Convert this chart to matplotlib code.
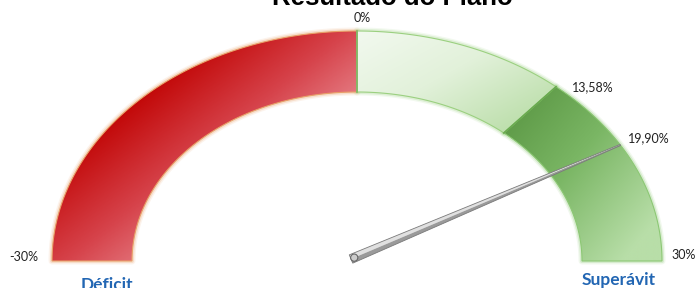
import numpy as np
import matplotlib
matplotlib.use("Agg")
import matplotlib.pyplot as plt
from matplotlib.patches import Polygon, Circle
from matplotlib.colors import LinearSegmentedColormap

# gauge data
title = "Resultado do Plano"
v_min, v_max = -30.0, 30.0
band_edges = [-30.0, 0.0, 13.58, 30.0]
band_colors = [[(0.0, "#b00000"), (0.33, "#c20808"), (0.58, "#d6434b"),
                (0.8, "#e8888f"), (1.0, "#f2b4b8")],
               [(0.0, "#f2f9ef"), (0.5, "#e2f1da"), (1.0, "#bddfac")],
               [(0.0, "#56923f"), (0.5, "#7ab664"), (1.0, "#b8dea8")]]
band_glow = ["#e8a068", "#9bd080", "#8cc874"]
value = 19.90
tick_labels = ["-30%", "0%", "13,58%", "19,90%", "30%"]
side_labels = ["Déficit", "Superávit"]

# layout in pixels
cx, cy = 357.0, 261.0
rx_o, ry_o = 305.0, 230.0
rx_i, ry_i = 225.0, 169.0


def ang(v):
    return np.pi * (v_max - v) / (v_max - v_min)


def band_poly(v0, v1, n=120):
    a = np.linspace(ang(v0), ang(v1), n)
    outer = np.c_[cx + rx_o * np.cos(a), cy - ry_o * np.sin(a)]
    inner = np.c_[cx + rx_i * np.cos(a[::-1]), cy - ry_i * np.sin(a[::-1])]
    return np.vstack([outer, inner])


fig = plt.figure(figsize=(6.95, 2.88), dpi=100)
ax = fig.add_axes([0, 0, 1, 1])
ax.set_xlim(0, 695)
ax.set_ylim(288, 0)
ax.axis("off")

for i in range(len(band_edges) - 1):
    pts = band_poly(band_edges[i], band_edges[i + 1])
    x0, y0 = pts.min(axis=0)
    x1, y1 = pts.max(axis=0)
    # soft glow
    for lw, al in [(5, 0.12), (3, 0.25)]:
        ax.add_patch(Polygon(pts, closed=True, fill=False, edgecolor=band_glow[i],
                             lw=lw, alpha=al, joinstyle="round", zorder=1))
    gx, gy = np.meshgrid(np.linspace(0, 1, 200), np.linspace(0, 1, 200))
    t = np.clip(0.6 * gx + 0.55 * gy, 0, 1)
    cmap = LinearSegmentedColormap.from_list("b%d" % i, band_colors[i])
    patch = Polygon(pts, closed=True, facecolor="none", edgecolor=band_glow[i],
                    lw=0.8, zorder=3)
    ax.add_patch(patch)
    im = ax.imshow(t, cmap=cmap, extent=(x0, x1, y1, y0), origin="upper",
                   aspect="auto", zorder=2, interpolation="bilinear")
    im.set_clip_path(patch)

# boundary lines between bands
for v, c in [(0.0, "#7cb864"), (13.58, "#6aaa50")]:
    a = ang(v)
    ax.plot([cx + rx_i * np.cos(a), cx + rx_o * np.cos(a)],
            [cy - ry_i * np.sin(a), cy - ry_o * np.sin(a)], color=c, lw=1.2, zorder=4)

# needle
a = ang(value)
tip = np.array([cx + rx_o * np.cos(a), cy - ry_o * np.sin(a)])
base = np.array([cx - 6.0, cy - 2.0])
d = (tip - base) / np.linalg.norm(tip - base)
p = np.array([d[1], -d[0]])
p = -p if p[1] > 0 else p
w0, w1 = 4.5, 0.6
upper = [base + p * w0, tip + p * w1, tip, base]
lower = [base, tip, tip - p * w1, base - p * w0]
ax.add_patch(Polygon(upper, closed=True, facecolor="#e0e0e0", edgecolor="none", zorder=5))
ax.add_patch(Polygon(lower, closed=True, facecolor="#9a9a9a", edgecolor="none", zorder=5))
ax.add_patch(Polygon([base + p * w0, tip + p * w1, tip - p * w1, base - p * w0],
                     closed=True, fill=False, edgecolor="#7a7a7a", lw=0.6, zorder=6))
ax.add_patch(Circle(base + d * 3.5, 3.6, facecolor="#cccccc", edgecolor="#666666",
                    lw=0.8, zorder=7))

# labels
num_font = dict(family=["Lato", "DejaVu Sans"], fontsize=9, color="#222222", zorder=8)
ax.text(38, 257, tick_labels[0], ha="right", va="center", **num_font)
ax.text(cx + 5, 18, tick_labels[1], ha="center", va="center", **num_font)
ax.text(572, 87, tick_labels[2], ha="left", va="center", **num_font)
ax.text(628, 138, tick_labels[3], ha="left", va="center", **num_font)
ax.text(671, 255, tick_labels[4], ha="left", va="center", **num_font)

lab_font = dict(family=["Lato", "DejaVu Sans"], fontsize=12.5, fontweight="bold",
                color="#2266b3", zorder=8)
ax.text(107, 290, side_labels[0], ha="center", va="baseline", **lab_font)
ax.text(619, 285, side_labels[1], ha="center", va="baseline", **lab_font)

ax.text(392, 5, title, ha="center", va="baseline", fontsize=18.5, fontweight="bold",
        family=["Liberation Sans", "DejaVu Sans"], color="black", zorder=8)

fig.savefig("out.png", dpi=100)
